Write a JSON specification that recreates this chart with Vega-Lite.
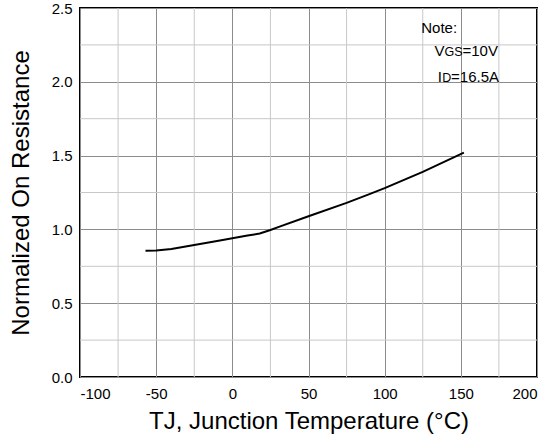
{
  "$schema": "https://vega.github.io/schema/vega-lite/v6.json",
  "autosize": "none",
  "padding": {"left": 80, "top": 8, "right": 20, "bottom": 71},
  "width": 457,
  "height": 369,
  "background": "white",
  "config": {
    "view": {"stroke": "black", "strokeWidth": 2},
    "font": "Liberation Sans"
  },
  "datasets": {
    "curve": [
      {"t": -57, "r": 0.855},
      {"t": -50, "r": 0.857},
      {"t": -40, "r": 0.867},
      {"t": -25, "r": 0.894},
      {"t": -10, "r": 0.921},
      {"t": 0, "r": 0.94},
      {"t": 10, "r": 0.958},
      {"t": 18, "r": 0.972},
      {"t": 25, "r": 0.996},
      {"t": 31, "r": 1.019},
      {"t": 50, "r": 1.089},
      {"t": 75, "r": 1.18},
      {"t": 90, "r": 1.239},
      {"t": 100, "r": 1.28},
      {"t": 125, "r": 1.39},
      {"t": 152, "r": 1.52}
    ],
    "minorX": [{"t": -75}, {"t": -25}, {"t": 25}, {"t": 75}, {"t": 125}, {"t": 175}],
    "minorY": [{"r": 0.25}, {"r": 0.75}, {"r": 1.25}, {"r": 1.75}, {"r": 2.25}],
    "noteBig": [
      {"t": 124.0, "r": 2.33, "txt": "Note:"},
      {"t": 132.7, "r": 2.172, "txt": "V"},
      {"t": 151.1, "r": 2.172, "txt": "=10V"},
      {"t": 134.9, "r": 2.002, "txt": "I"},
      {"t": 143.6, "r": 2.002, "txt": "=16.5A"}
    ],
    "noteSmall": [
      {"t": 139.3, "r": 2.172, "txt": "GS"},
      {"t": 137.8, "r": 2.002, "txt": "D"}
    ]
  },
  "layer": [
    {
      "data": {"name": "minorX"},
      "mark": {"type": "rule", "color": "#c8c8c8", "strokeWidth": 1},
      "encoding": {"x": {"field": "t", "type": "quantitative"}}
    },
    {
      "data": {"name": "minorY"},
      "mark": {"type": "rule", "color": "#c8c8c8", "strokeWidth": 1},
      "encoding": {"y": {"field": "r", "type": "quantitative"}}
    },
    {
      "data": {"name": "curve"},
      "mark": {"type": "line", "color": "black", "strokeWidth": 2, "interpolate": "linear"},
      "encoding": {
        "x": {
          "field": "t", "type": "quantitative",
          "scale": {"domain": [-100, 200], "nice": false},
          "axis": {
            "title": "TJ, Junction Temperature (°C)",
            "titleFontSize": 24, "titleFontWeight": "normal", "titleColor": "black", "titlePadding": 8,
            "values": [-100, -50, 0, 50, 100, 150, 200],
            "labelExpr": "'' + datum.value",
            "labelFontSize": 15, "labelColor": "black", "labelPadding": 9,
            "ticks": false, "domain": false,
            "gridColor": "#8c8c8c", "gridOpacity": 1, "gridWidth": 1
          }
        },
        "y": {
          "field": "r", "type": "quantitative",
          "scale": {"domain": [0, 2.5], "nice": false},
          "axis": {
            "title": "Normalized On Resistance",
            "titleFontSize": 24, "titleFontWeight": "normal", "titleColor": "black", "titlePadding": 18,
            "values": [0, 0.5, 1, 1.5, 2, 2.5],
            "format": ".1f",
            "labelFontSize": 15, "labelColor": "black", "labelPadding": 8,
            "ticks": false, "domain": false,
            "gridColor": "#8c8c8c", "gridOpacity": 1, "gridWidth": 1
          }
        }
      }
    },
    {
      "data": {"name": "noteBig"},
      "mark": {"type": "text", "align": "left", "baseline": "alphabetic", "color": "black", "fontSize": 15},
      "encoding": {
        "x": {"field": "t", "type": "quantitative"},
        "y": {"field": "r", "type": "quantitative"},
        "text": {"field": "txt"}
      }
    },
    {
      "data": {"name": "noteSmall"},
      "mark": {"type": "text", "align": "left", "baseline": "alphabetic", "color": "black", "fontSize": 12.5},
      "encoding": {
        "x": {"field": "t", "type": "quantitative"},
        "y": {"field": "r", "type": "quantitative"},
        "text": {"field": "txt"}
      }
    }
  ]
}
